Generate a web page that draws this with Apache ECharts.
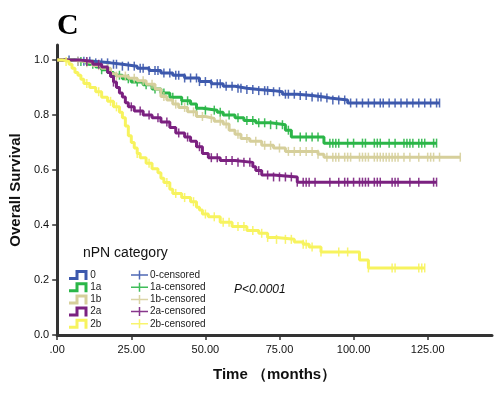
<!DOCTYPE html>
<html>
<head>
<meta charset="utf-8">
<script src="https://cdn.jsdelivr.net/npm/echarts@6/dist/echarts.min.js"></script>
<style>
  html, body { margin: 0; padding: 0; background: #fff; }
  #chart { width: 500px; height: 394px; }
</style>
</head>
<body>
<div id="chart"></div>
<script>
  // groups
  const groupNames = ['0', '1a', '1b', '2a', '2b']
  const groupColors = ['#3d59ad', '#2bb648', '#d6cf9b', '#7b2180', '#f7f35e']

  // km steps: [time, survival after drop]
  const km0 = [[0, 1], [6, 0.996], [12, 0.99], [18, 0.985], [22, 0.978], [27, 0.97], [31, 0.962], [35, 0.953],
    [39, 0.945], [43, 0.935], [48, 0.922], [52, 0.914], [56, 0.905], [60, 0.898], [64, 0.893], [68, 0.889],
    [73, 0.885], [76, 0.876], [81, 0.871], [86, 0.866], [90, 0.862], [92, 0.855], [98, 0.844], [129, 0.844]]
  const km1a = [[0, 1], [6, 0.995], [10, 0.985], [13, 0.975], [15, 0.965], [17, 0.955], [19, 0.945], [22, 0.932],
    [25, 0.92], [29, 0.91], [32, 0.895], [35, 0.88], [38, 0.865], [42, 0.852], [45, 0.84], [47, 0.825],
    [49, 0.818], [54, 0.81], [56, 0.8], [60, 0.79], [63, 0.78], [67, 0.772], [72, 0.765], [77, 0.745],
    [79, 0.72], [90, 0.698], [128, 0.698]]
  const km1b = [[0, 1], [5, 0.996], [9, 0.99], [12, 0.98], [15, 0.97], [18, 0.95], [20, 0.942], [24, 0.934],
    [27, 0.925], [30, 0.912], [33, 0.895], [35, 0.868], [37, 0.855], [39, 0.84], [41, 0.828], [44, 0.812],
    [47, 0.795], [50, 0.788], [53, 0.778], [56, 0.768], [58, 0.745], [60, 0.73], [62, 0.715], [65, 0.705],
    [69, 0.69], [73, 0.68], [77, 0.668], [88, 0.658], [90, 0.647], [136, 0.647]]
  const km2a = [[0, 1], [8, 0.995], [12, 0.985], [15, 0.975], [17, 0.955], [18, 0.94], [19, 0.92], [20, 0.9],
    [21, 0.88], [22, 0.866], [23, 0.845], [24, 0.83], [26, 0.815], [29, 0.8], [32, 0.79], [35, 0.775],
    [38, 0.755], [40, 0.735], [43, 0.72], [45, 0.705], [47, 0.685], [49, 0.66], [51, 0.645], [55, 0.635],
    [60, 0.628], [66, 0.612], [67, 0.598], [69, 0.582], [73, 0.575], [81, 0.556], [128, 0.556]]
  const km2b = [[0, 1], [2, 0.995], [4, 0.985], [5, 0.97], [6, 0.955], [7, 0.945], [8, 0.93], [9, 0.915],
    [11, 0.9], [13, 0.885], [15, 0.865], [17, 0.85], [19, 0.83], [21, 0.81], [22, 0.79], [23, 0.76],
    [24, 0.725], [25, 0.7], [26, 0.68], [27, 0.66], [28, 0.645], [30, 0.625], [32, 0.605], [34, 0.59],
    [35, 0.57], [36, 0.555], [38, 0.53], [39, 0.515], [42, 0.5], [45, 0.485], [47, 0.465], [48, 0.455],
    [49, 0.44], [51, 0.43], [55, 0.41], [59, 0.395], [64, 0.38], [68, 0.37], [71, 0.355], [74, 0.348],
    [80, 0.338], [83, 0.33], [85, 0.32], [89, 0.302], [102, 0.273], [105, 0.244], [124, 0.244]]

  // censored times
  const cens0 = [4, 7, 9, 11, 13, 15, 17, 19, 20, 22, 24, 26, 28, 29, 31, 33, 34, 36, 38, 40, 41, 43, 45, 47,
    48, 50, 52, 54, 55, 57, 59, 61, 62, 64, 66, 68, 70, 71, 73, 75, 77, 78, 80, 82, 84, 86, 88, 89, 91, 93,
    95, 97, 99, 101, 103, 105, 107, 109, 110, 112, 114, 116, 118, 120, 122, 124, 126, 128, 129]
  const cens1a = [8, 12, 15, 18, 21, 24, 27, 30, 33, 36, 39, 42, 44, 47, 50, 53, 55, 58, 61, 64, 66, 68, 70,
    72, 74, 76, 78, 82, 84, 86, 88, 92, 93, 94, 95, 98, 100, 103, 104, 107, 108, 109, 112, 114, 117, 118,
    119, 120, 122, 123, 124, 127, 128]
  const cens1b = [7, 10, 14, 17, 20, 23, 26, 29, 32, 36, 40, 43, 46, 49, 52, 55, 57, 61, 64, 67, 70, 72, 75,
    78, 80, 82, 84, 86, 88, 91, 93, 94, 95, 97, 98, 99, 102, 103, 104, 105, 107, 108, 109, 110, 111, 112,
    113, 114, 115, 117, 119, 122, 125, 126, 127, 129, 136]
  const cens2a = [10, 14, 19, 25, 28, 31, 34, 37, 41, 44, 48, 52, 54, 57, 59, 61, 63, 65, 68, 71, 73, 75, 77,
    79, 81, 83, 84, 85, 87, 92, 95, 97, 98, 100, 102, 103, 104, 105, 107, 108, 109, 113, 114, 115, 119, 122,
    127, 128]
  const cens2b = [3, 10, 14, 18, 20, 27, 31, 37, 40, 43, 46, 50, 53, 56, 58, 61, 63, 66, 69, 71, 74, 77, 79,
    83, 84, 86, 89, 95, 98, 105, 113, 114, 122, 123, 124]

  const xTicks = [0, 25, 50, 75, 100, 125]
  const yTicks = [0, 0.2, 0.4, 0.6, 0.8, 1.0]

  const kmData = [km0, km1a, km1b, km2a, km2b]
  const censData = [cens0, cens1a, cens1b, cens2a, cens2b]

  // survival value of a step curve at time t
  function survAt(steps, t) {
    let s = steps[0][1]
    for (let i = 0; i < steps.length; i++) {
      if (steps[i][0] <= t) s = steps[i][1]
    }
    return s
  }

  const stepIcon = 'path://M0,7L6.5,7L6.5,0L18.5,0L18.5,10L15.5,10L15.5,3L9.5,3L9.5,10L0,10Z'
  const plusIcon = 'path://M0,3.75L7.75,3.75L7.75,0L9.25,0L9.25,3.75L17,3.75L17,5.25L9.25,5.25L9.25,9L7.75,9L7.75,5.25L0,5.25Z'

  let series = []
  groupNames.forEach((name, i) => {
    series.push({
      name: name,
      type: 'line',
      step: 'end',
      showSymbol: false,
      color: groupColors[i],
      itemStyle: {color: groupColors[i]},
      lineStyle: {color: groupColors[i], width: 3},
      data: kmData[i],
      animation: false,
      z: 2 + i
    })
    series.push({
      name: name + '-censored',
      type: 'scatter',
      symbol: 'rect',
      symbolSize: [1.5, 9],
      color: groupColors[i],
      itemStyle: {color: groupColors[i], opacity: 0.9},
      data: censData[i].map(t => [t, survAt(kmData[i], t)]),
      animation: false,
      z: 2 + i
    })
  })

  const legendText = {
    fontSize: 10, color: '#222', fontFamily: 'Liberation Sans, Arial', lineHeight: 12, padding: [0, 0, 0, -3]
  }

  let chart = echarts.init(document.getElementById('chart'))
  let option = {
    backgroundColor: '#fff',
    animation: false,
    grid: {left: 52, top: 45, right: 8, bottom: 59},
    xAxis: {
      type: 'value',
      min: 0,
      max: 146.7,
      name: 'Time （months）',
      nameLocation: 'middle',
      nameGap: 32,
      nameTextStyle: {fontSize: 15, fontWeight: 'bold', color: '#111', fontFamily: 'Liberation Sans, Arial'},
      axisLine: {lineStyle: {color: '#333', width: 3}},
      axisTick: {length: 5, lineStyle: {color: '#333', width: 1.5}, customValues: xTicks},
      axisLabel: {
        fontSize: 11, color: '#111', fontFamily: 'Liberation Sans, Arial', margin: 9,
        customValues: xTicks,
        formatter: v => v === 0 ? '.00' : v.toFixed(2)
      },
      splitLine: {show: false}
    },
    yAxis: {
      type: 'value',
      min: 0,
      max: 1.055,
      name: 'Overall Survival',
      nameLocation: 'middle',
      nameGap: 33,
      nameRotate: 90,
      nameTextStyle: {fontSize: 15, fontWeight: 'bold', color: '#111', fontFamily: 'Liberation Sans, Arial'},
      axisLine: {show: true, lineStyle: {color: '#333', width: 3}},
      axisTick: {show: true, length: 5, lineStyle: {color: '#333', width: 1.5}, customValues: yTicks},
      axisLabel: {
        fontSize: 11, color: '#111', fontFamily: 'Liberation Sans, Arial', margin: 8,
        customValues: yTicks,
        formatter: v => v.toFixed(1)
      },
      splitLine: {show: false}
    },
    legend: [
      {
        orient: 'vertical',
        left: 64,
        top: 264,
        itemWidth: 20,
        itemHeight: 10,
        itemGap: 0.2,
        textStyle: legendText,
        selectedMode: false,
        data: groupNames.map(n => ({name: n, icon: stepIcon}))
      },
      {
        orient: 'vertical',
        left: 126,
        top: 264,
        itemWidth: 17,
        itemHeight: 9,
        itemGap: 0.2,
        textStyle: legendText,
        selectedMode: false,
        data: groupNames.map(n => ({name: n + '-censored', icon: plusIcon}))
      }
    ],
    graphic: [
      {
        type: 'text', left: 57, top: 11,
        style: {text: 'C', font: 'bold 30px "Liberation Serif", "Times New Roman", serif', fill: '#000'}
      },
      {
        type: 'text', left: 83, top: 246,
        style: {text: 'nPN category', font: '14px "Liberation Sans", Arial', fill: '#111'}
      },
      {
        type: 'text', left: 234, top: 284,
        style: {text: 'P<0.0001', font: 'italic 12px "Liberation Sans", Arial', fill: '#111'}
      }
    ],
    series: series
  }
  chart.setOption(option)
</script>
</body>
</html>
